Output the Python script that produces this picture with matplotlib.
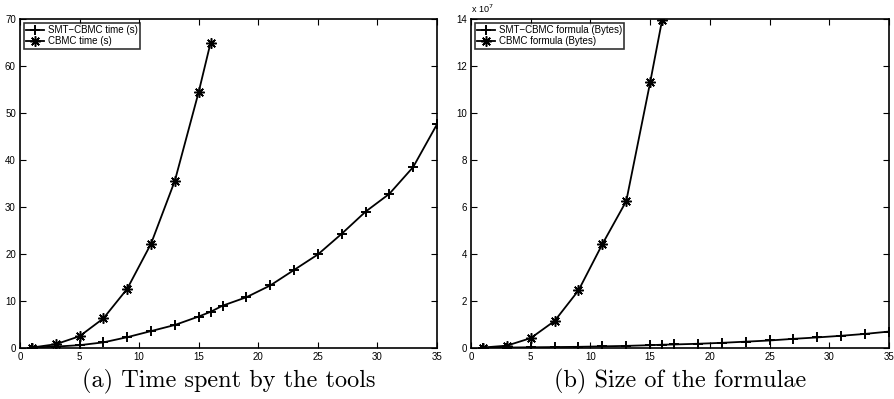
import matplotlib
matplotlib.use("Agg")
import matplotlib.pyplot as plt

# ---- data ----
smt_x = [1, 3, 5, 7, 9, 11, 13, 15, 16, 17, 19, 21, 23, 25, 27, 29, 31, 33, 35]
smt_time = [0.1, 0.3, 0.6, 1.2, 2.3, 3.6, 4.9, 6.7, 7.7, 9.0, 10.8, 13.3, 16.6,
            19.9, 24.3, 29.0, 32.8, 38.5, 47.6]
cbmc_x = [1, 3, 5, 7, 9, 11, 13, 15, 16]
cbmc_time = [0.1, 0.8, 2.5, 6.3, 12.6, 22.2, 35.6, 54.5, 65.0]

smt_size = [0.01, 0.02, 0.03, 0.04, 0.05, 0.07, 0.09, 0.12, 0.14, 0.15, 0.18,
            0.22, 0.27, 0.32, 0.39, 0.45, 0.52, 0.60, 0.70]  # x 1e7
cbmc_size = [0.02, 0.10, 0.42, 1.15, 2.45, 4.42, 6.25, 11.3, 13.95]  # x 1e7

labels_a = ["SMT\u2212CBMC time (s)", "CBMC time (s)"]
labels_b = ["SMT\u2212CBMC formula (Bytes)", "CBMC formula (Bytes)"]
caption_a = "(a) Time spent by the tools"
caption_b = "(b) Size of the formulae"

plt.rcParams['font.family'] = ['Liberation Sans', 'DejaVu Sans']

fig = plt.figure(figsize=(8.94, 3.99), dpi=100)
W, H = 894, 399
ax1 = fig.add_axes([20 / W, 1 - 348 / H, (437 - 20) / W, (348 - 19) / H])
ax2 = fig.add_axes([471 / W, 1 - 348 / H, (889 - 471) / W, (348 - 19) / H])

ast = (8, 2, 0)
plus_kw = dict(color='black', lw=1.3, marker='+', ms=6.5, mew=1.4)
ast_kw = dict(color='black', lw=1.3, marker=ast, ms=7.5, mew=1.1)

ax1.plot(smt_x, smt_time, label=labels_a[0], **plus_kw)
ax1.plot(cbmc_x, cbmc_time, label=labels_a[1], **ast_kw)
ax1.set_ylim(0, 70)
ax1.set_yticks(range(0, 71, 10))

ax2.plot(smt_x, smt_size, label=labels_b[0], **plus_kw)
ax2.plot(cbmc_x, cbmc_size, label=labels_b[1], **ast_kw)
ax2.set_ylim(0, 14)
ax2.set_yticks(range(0, 15, 2))
ax2.text(0.0, 1.012, r"x 10$^7$", transform=ax2.transAxes, fontsize=6.5,
         ha='left', va='bottom')

for ax, cap in ((ax1, caption_a), (ax2, caption_b)):
    ax.set_xlim(0, 35)
    ax.set_xticks(range(0, 36, 5))
    ax.tick_params(direction='in', top=True, right=True, length=4, width=0.8,
                   labelsize=7, pad=3)
    for s in ax.spines.values():
        s.set_linewidth(1.2)
    leg = ax.legend(loc='upper left', fontsize=7, frameon=True, fancybox=False,
                    edgecolor='black', handlelength=1.8, borderpad=0.25,
                    labelspacing=0.1, handletextpad=0.4, borderaxespad=0.4)
    leg.get_frame().set_linewidth(1.2)
    ax.text(0.5, -0.062, cap, transform=ax.transAxes, ha='center', va='top',
            fontsize=17.5, family=['cmr10', 'DejaVu Serif'])

fig.savefig("out.png", dpi=100)
